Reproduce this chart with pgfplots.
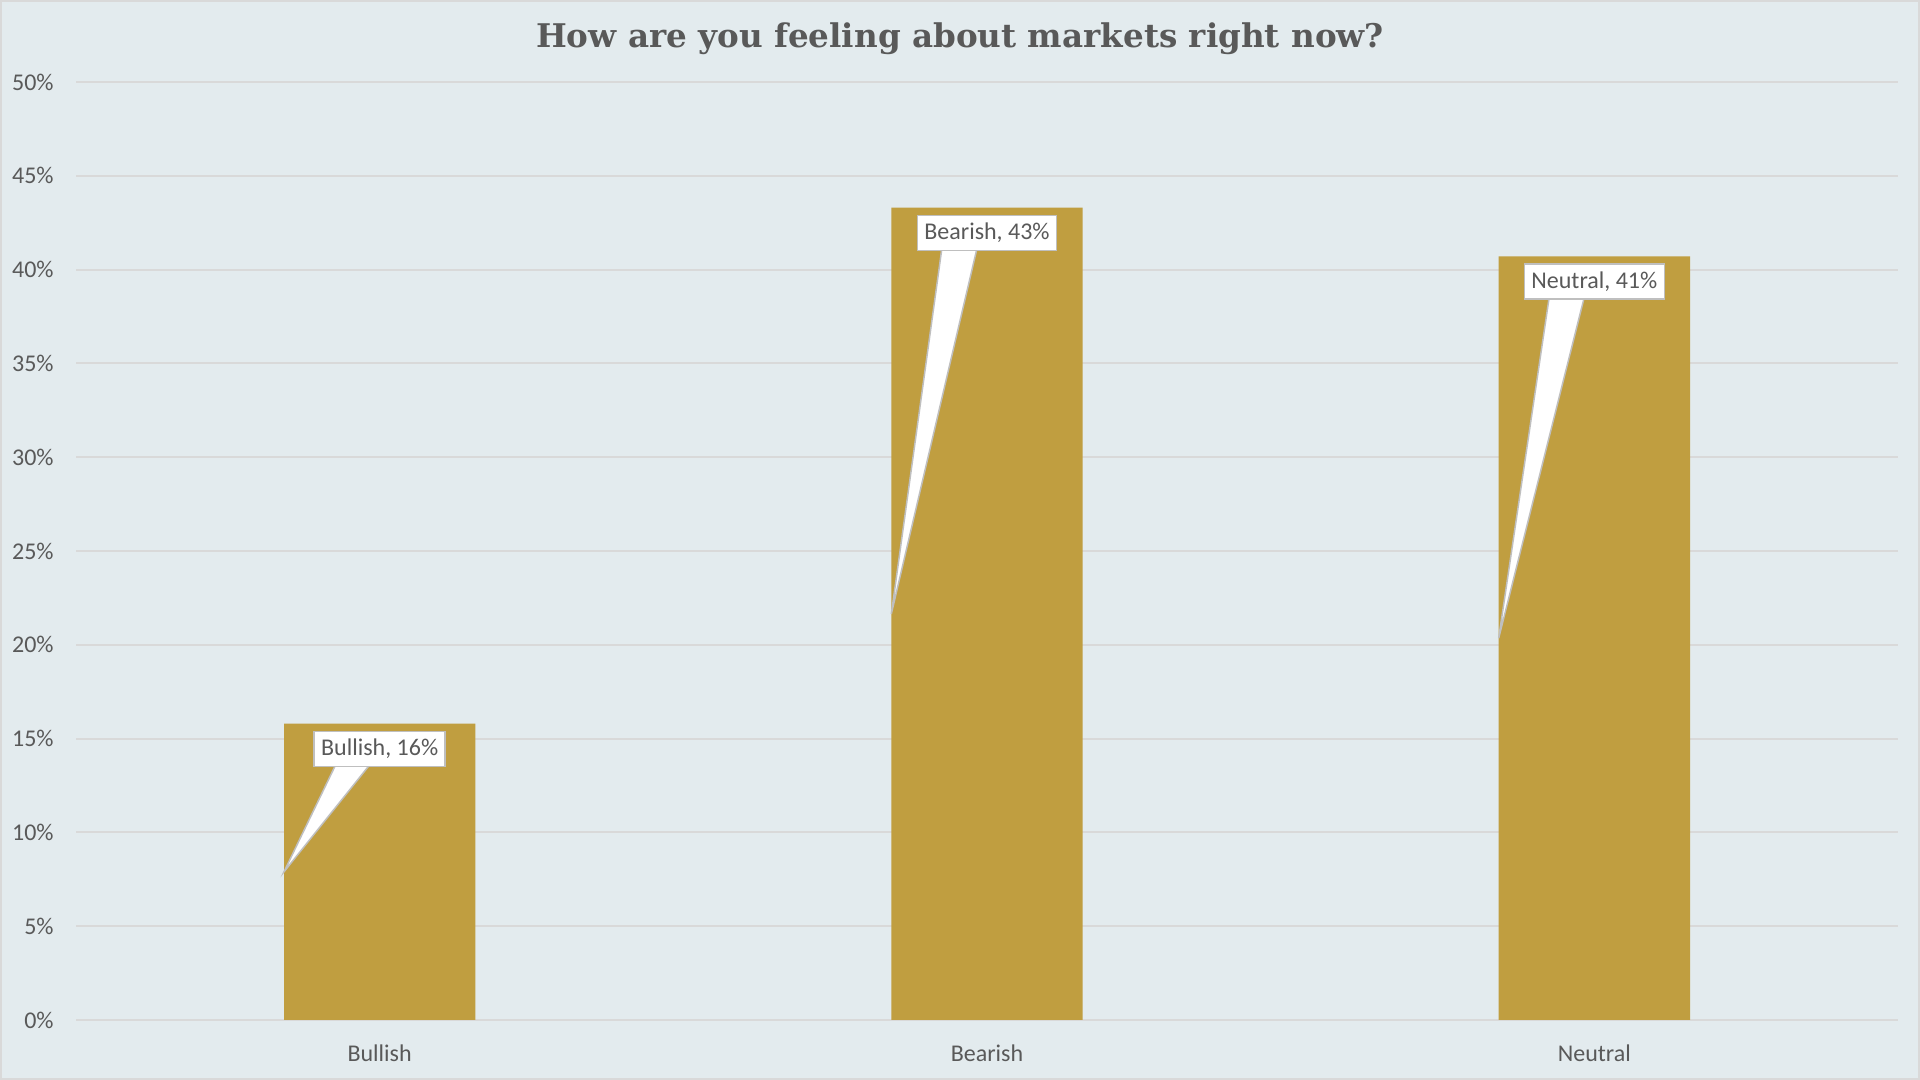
\documentclass[border=0pt]{standalone}
\usepackage{pgfplots}
\pgfplotsset{compat=1.18}
\usepackage{fontspec}
\setmainfont{Carlito}
\newfontfamily\titlefont{DejaVu Serif}

\definecolor{bg}{RGB}{227,235,238}
\definecolor{gridgray}{RGB}{217,217,217}
\definecolor{textgray}{RGB}{89,89,89}
\definecolor{bargold}{RGB}{192,158,64}
\definecolor{callout}{RGB}{191,191,191}

\begin{document}
\begin{tikzpicture}
\fill[bg] (0,0) rectangle (960bp,540bp);
\draw[gridgray, line width=1bp] (0.5bp,0.5bp) rectangle (959.5bp,539.5bp);
\begin{axis}[
  at={(38bp,30bp)}, anchor=south west,
  scale only axis, width=911bp, height=469bp,
  xmin=-0.5, xmax=2.5, ymin=0, ymax=50,
  xtick={0,1,2}, xticklabels={Bullish,Bearish,Neutral},
  ytick={0,5,...,50},
  yticklabels={0\%,5\%,10\%,15\%,20\%,25\%,30\%,35\%,40\%,45\%,50\%},
  ymajorgrids, grid style={gridgray, line width=1bp},
  axis line style={draw=none}, major tick length=0pt,
  ticklabel style={text=textgray, font=\fontsize{12bp}{14bp}\selectfont, inner sep=0pt},
  yticklabel style={anchor=east, xshift=-11bp},
  xticklabel style={anchor=center, yshift=-16.5bp},
  clip=false,
]
% survey shares (percent)
\addplot[ybar, bar width=0.315, bar shift=0pt, fill=bargold, draw=none]
  coordinates {(0,15.8) (1,43.3) (2,40.7)};
% callout pointers
\addplot[fill=white, draw=callout, line width=0.75bp] coordinates {(-0.071,13.7) (-0.014,13.7) (-0.1575,7.9)} -- cycle;
\addplot[fill=white, draw=callout, line width=0.75bp] coordinates {(0.926,41.2) (0.984,41.2) (0.8425,21.65)} -- cycle;
\addplot[fill=white, draw=callout, line width=0.75bp] coordinates {(1.926,38.6) (1.984,38.6) (1.8425,20.35)} -- cycle;
% callout labels
\addplot[draw=none, mark=none, nodes near coords, point meta=explicit symbolic,
  every node near coord/.style={anchor=north, yshift=-3.5bp, fill=white, draw=callout,
    line width=0.75bp, text=textgray, font=\fontsize{12bp}{14bp}\selectfont,
    inner xsep=3.5bp, inner ysep=0pt, minimum height=17.5bp}]
  coordinates {(0,15.8) [Bullish, 16\%] (1,43.3) [Bearish, 43\%] (2,40.7) [Neutral, 41\%]};
\end{axis}
\node[font=\titlefont\bfseries\fontsize{16.3bp}{19bp}\selectfont, text=textgray] at (480bp,520.5bp)
  {How are you feeling about markets right now?};
\pgfresetboundingbox
\useasboundingbox (0,0) rectangle (960bp,540bp);
\end{tikzpicture}
\end{document}
